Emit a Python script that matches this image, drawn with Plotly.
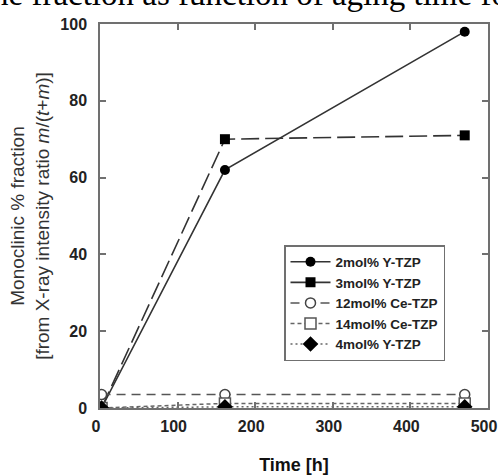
import plotly.graph_objects as go

# Data
time_h = [2, 161, 470]
y_2Y = [0, 62, 98]
y_3Y = [0, 70, 71]
y_12Ce = [3.5, 3.5, 3.5]
y_14Ce = [0, 1.2, 1.2]
y_4Y = [0, 0.3, 0.3]

names = ["2mol% Y-TZP", "3mol% Y-TZP", "12mol% Ce-TZP", "14mol% Ce-TZP", "4mol% Y-TZP"]
x_ticks = [0, 100, 200, 300, 400, 500]
y_ticks = [0, 20, 40, 60, 80, 100]

L, R, T, B = 100, 10, 24, 67
W, H = 498, 475
pw, ph = W - L - R, H - T - B

fig = go.Figure()
fig.add_trace(go.Scatter(x=time_h, y=y_2Y, name=names[0], mode="lines+markers",
                         line=dict(color="#333333", width=1.6),
                         marker=dict(symbol="circle", size=10, color="black")))
fig.add_trace(go.Scatter(x=time_h, y=y_3Y, name=names[1], mode="lines+markers",
                         line=dict(color="#333333", width=1.6, dash="18px,6px"),
                         marker=dict(symbol="square", size=10, color="black")))
fig.add_trace(go.Scatter(x=time_h, y=y_12Ce, name=names[2], mode="lines+markers",
                         line=dict(color="#555555", width=1.5, dash="9px,6px"),
                         marker=dict(symbol="circle", size=10, color="white",
                                     line=dict(width=1.5, color="#444444"))))
fig.add_trace(go.Scatter(x=time_h, y=y_14Ce, name=names[3], mode="lines+markers",
                         line=dict(color="#666666", width=1.5, dash="4px,3px"),
                         marker=dict(symbol="square", size=11, color="white",
                                     line=dict(width=1.5, color="#555555"))))
fig.add_trace(go.Scatter(x=time_h, y=y_4Y, name=names[4], mode="lines+markers",
                         line=dict(color="#666666", width=1.5, dash="2px,3px"),
                         marker=dict(symbol="diamond", size=12, color="black")))

axis_common = dict(showgrid=False, zeroline=False, showline=True, linecolor="#707070",
                   linewidth=1.5, mirror="ticks", ticks="inside", ticklen=6,
                   tickcolor="#707070", tickwidth=1.5, automargin=False,
                   tickfont=dict(family="Liberation Sans, Arial", size=16, color="#222222", weight="bold"))

fig.update_xaxes(range=[0, 500], tickvals=x_ticks, ticklabelstandoff=3, ticklabelshift=-4,
                 ticklabeloverflow="allow",
                 title=dict(text="<b>Time [h]</b>", font=dict(family="Liberation Sans, Arial", size=18, color="#111111"),
                            standoff=31),
                 **axis_common)
fig.update_yaxes(range=[0, 100], tickvals=y_ticks, ticklabelstandoff=8, ticklabeloverflow="allow",
                 title=dict(text="Monoclinic % fraction<br>[from X-ray intensity ratio <i>m</i>/(<i>t</i>+<i>m</i>)]",
                            font=dict(family="Liberation Sans, Arial", size=19, color="#333333"), standoff=6),
                 **axis_common)

fig.add_annotation(text="ne fraction as function of aging time fo", xref="paper", yref="paper",
                   x=(250 - L) / pw, y=1 + (T + 6) / ph, xanchor="center", yanchor="middle",
                   showarrow=False, font=dict(family="Liberation Serif, Times New Roman", size=33, color="black"))

fig.update_layout(
    width=W, height=H, margin=dict(l=L, r=R, t=T, b=B),
    paper_bgcolor="white", plot_bgcolor="white",
    legend=dict(x=(284 - L) / pw, y=(408 - 245) / ph, xanchor="left", yanchor="top",
                bordercolor="#707070", borderwidth=1.5, bgcolor="white",
                font=dict(family="Liberation Sans, Arial", size=13.5, color="#222222", weight="bold"),
                itemwidth=40, tracegroupgap=0),
)

fig.write_html("out.html")
